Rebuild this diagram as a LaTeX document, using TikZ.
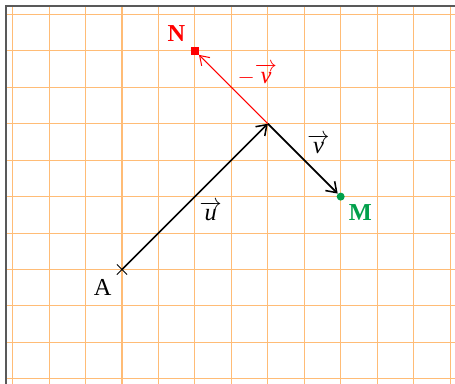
\documentclass[tikz,border=0pt]{standalone}
\usepackage{amsmath}
\usepackage{amssymb}
\usepackage{fontspec}
\setmainfont{Liberation Serif}
\usetikzlibrary{arrows.meta,shapes.misc}

\definecolor{gridorange}{RGB}{255,188,118}
\definecolor{ptgreen}{RGB}{0,160,75}

\begin{document}
\begin{tikzpicture}[
        gridline/.style={draw=gridorange, line width=0.8pt},
        vec/.style={line width=1.3pt, -{Straight Barb[length=2.6mm,width=3.6mm,line width=1.2pt]}},
        negvec/.style={draw=red, line width=0.8pt, -{Straight Barb[length=2.4mm,width=3.2mm,line width=0.8pt]}},
        cross/.style={cross out, draw=black, line width=0.6pt,
        inner sep=0pt, minimum size=2.6mm},
        dot/.style={circle, fill=ptgreen, inner sep=0pt, minimum size=2.2mm},
        sqr/.style={rectangle, fill=red, inner sep=0pt, minimum size=2.1mm},
        lbl/.style={font=\fontsize{19}{22}\selectfont},
        ]

        \useasboundingbox (-3.347,-3.114) rectangle (9.136,7.394);
        \fill[white] (-3.347,-3.114) rectangle (9.136,7.394);

        % squared paper
        \draw[gridline] (-3.18,-3.2) grid (9.2,7.23);
        \draw[gray!70!black, line width=1.4pt] (-3.18,-3.2) -- (-3.18,7.23) -- (9.2,7.23);

        \node (A) [cross, label={[lbl, label distance=0.3mm]225:A}] at (0,0){};
        \coordinate (B) at (4,4);
        \node (M) [dot, label={[lbl, text=ptgreen, label distance=0.2mm]-45:\textbf{M}}] at (6,2){};
        \node (N) [sqr, label={[lbl, text=red, label distance=0.4mm]135:\textbf{N}}] at (2,6){};

        \draw[vec] (A.center) -- node[lbl, below right, inner sep=3pt]{$\overrightarrow{\textit{u}}$} (B);
        \draw[vec] (B) -- node[lbl, above right, inner sep=3pt]{$\overrightarrow{\textit{v}}$} (M);
        \draw[negvec] (B) -- node[lbl, text=red, above right, inner sep=3pt]{$-\overrightarrow{\textit{v}}$} (N);
    \end{tikzpicture}
\end{document}
